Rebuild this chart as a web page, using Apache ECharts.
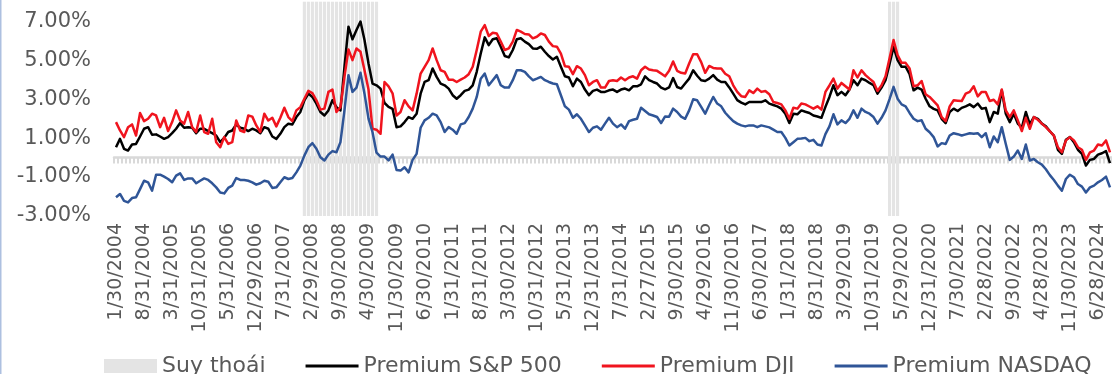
<!DOCTYPE html>
<html>
<head>
<meta charset="utf-8">
<script src="https://cdn.jsdelivr.net/npm/echarts@6/dist/echarts.min.js"></script>
<style>
  html, body { margin: 0; padding: 0; background: #ffffff; }
  #chart { width: 1112px; height: 374px; }
</style>
</head>
<body>
<div id="chart"></div>
<script>
// Monthly series, January 2004 to September 2024 (month-end values, in %)
const startYear = 2004;
const monthCount = 249;

// NBER recession months shaded on the chart
const recessions = [['2007-12', '2009-06'], ['2020-02', '2020-04']];

const spPremium = [
  0.53, 0.96, 0.45, 0.36, 0.67, 0.70, 1.08, 1.48, 1.56, 1.17,
  1.19, 1.08, 0.96, 1.05, 1.25, 1.48, 1.77, 1.53, 1.56, 1.53,
  1.25, 1.48, 1.48, 1.36, 1.25, 1.13, 0.79, 1.01, 1.31, 1.39,
  1.70, 1.53, 1.48, 1.36, 1.48, 1.39, 1.25, 1.56, 1.48, 1.08,
  0.96, 1.22, 1.56, 1.74, 1.70, 2.08, 2.34, 2.94, 3.28, 3.11,
  2.77, 2.34, 2.16, 2.42, 2.94, 2.59, 2.42, 4.66, 6.72, 6.07,
  6.55, 6.98, 6.03, 4.83, 3.80, 3.71, 3.54, 2.80, 2.60, 2.50,
  1.56, 1.60, 1.82, 2.08, 1.99, 2.25, 3.28, 3.88, 3.97, 4.57,
  4.14, 3.80, 3.71, 3.54, 3.20, 3.02, 3.20, 3.42, 3.49, 3.71,
  4.40, 5.34, 6.17, 5.77, 6.07, 6.12, 5.69, 5.21, 5.14, 5.52,
  6.07, 6.12, 5.95, 5.82, 5.60, 5.58, 5.69, 5.43, 5.21, 5.03,
  5.17, 4.66, 4.17, 4.11, 3.66, 4.05, 3.88, 3.49, 3.20, 3.42,
  3.49, 3.37, 3.37, 3.45, 3.49, 3.37, 3.49, 3.54, 3.45, 3.66,
  3.66, 3.76, 4.17, 3.97, 3.88, 3.80, 3.59, 3.50, 3.60, 4.08,
  3.62, 3.54, 3.80, 4.05, 4.48, 4.20, 3.97, 3.93, 4.05, 4.23,
  4.00, 3.88, 3.88, 3.60, 3.28, 2.95, 2.82, 2.73, 2.85, 2.85,
  2.85, 2.85, 2.94, 2.77, 2.70, 2.63, 2.51, 2.25, 1.77, 2.25,
  2.22, 2.42, 2.35, 2.29, 2.16, 2.11, 2.04, 2.60, 3.11, 3.71,
  3.20, 3.37, 3.20, 3.49, 3.97, 3.71, 4.05, 3.97, 3.83, 3.71,
  3.28, 3.59, 3.97, 4.80, 5.69, 5.00, 4.66, 4.66, 4.28, 3.45,
  3.59, 3.49, 3.02, 2.63, 2.50, 2.42, 1.99, 1.77, 2.34, 2.51,
  2.39, 2.55, 2.63, 2.73, 2.59, 2.77, 2.51, 2.55, 1.82, 2.34,
  2.25, 3.45, 2.25, 1.82, 2.25, 1.74, 1.53, 2.34, 1.70, 2.08,
  1.99, 1.74, 1.60, 1.35, 1.13, 0.40, 0.19, 0.91, 1.05, 0.79,
  0.40, 0.19, -0.41, -0.12, -0.07, 0.15, 0.22, 0.33, -0.29
];

const djiPremium = [
  1.82, 1.39, 1.05, 1.56, 1.70, 1.13, 2.29, 1.87, 1.99, 2.25,
  2.16, 1.56, 2.04, 1.36, 1.82, 2.42, 1.90, 1.74, 2.34, 1.56,
  1.31, 2.16, 1.31, 1.22, 1.99, 0.79, 0.53, 1.05, 0.70, 0.79,
  1.90, 1.39, 1.31, 2.16, 2.10, 1.65, 1.31, 2.25, 1.90, 2.04,
  1.60, 2.04, 2.56, 2.08, 1.87, 2.42, 2.59, 3.02, 3.42, 3.31,
  2.94, 2.46, 2.51, 3.37, 3.49, 2.34, 2.59, 4.14, 5.55, 5.00,
  5.60, 5.43, 4.48, 3.49, 1.48, 1.43, 1.22, 3.88, 3.65, 3.30,
  2.16, 2.34, 2.94, 2.63, 2.42, 3.28, 4.31, 4.66, 5.00, 5.60,
  5.00, 4.48, 4.40, 4.00, 4.00, 3.88, 4.00, 4.11, 4.28, 4.66,
  5.52, 6.46, 6.80, 6.24, 6.41, 6.37, 5.95, 5.52, 5.60, 5.95,
  6.55, 6.46, 6.34, 6.32, 6.12, 6.20, 6.37, 6.29, 5.95, 5.72,
  5.69, 5.34, 4.69, 4.66, 4.28, 4.69, 4.57, 4.23, 3.71, 3.88,
  3.97, 3.59, 3.59, 3.93, 3.97, 3.93, 4.11, 3.97, 4.11, 4.17,
  4.05, 4.48, 4.66, 4.52, 4.48, 4.45, 4.31, 4.17, 4.45, 4.93,
  4.45, 4.35, 4.31, 4.83, 5.30, 5.30, 4.90, 4.35, 4.70, 4.60,
  4.57, 4.57, 4.30, 4.17, 3.71, 3.37, 3.15, 3.11, 3.45, 3.31,
  3.54, 3.37, 3.42, 3.25, 2.85, 2.80, 2.73, 2.42, 1.99, 2.56,
  2.51, 2.77, 2.73, 2.62, 2.51, 2.63, 2.46, 3.37, 3.70, 4.05,
  3.54, 3.83, 3.66, 3.49, 4.48, 4.11, 4.48, 4.23, 4.05, 3.88,
  3.42, 3.71, 4.17, 5.10, 6.03, 5.26, 4.86, 4.86, 4.57, 3.66,
  3.71, 3.93, 3.25, 3.11, 2.90, 2.68, 2.08, 1.87, 2.63, 2.94,
  2.92, 2.90, 3.28, 3.37, 3.66, 3.14, 3.37, 3.37, 2.90, 2.97,
  2.73, 3.49, 2.42, 2.08, 2.42, 1.91, 1.36, 2.04, 1.48, 2.08,
  1.94, 1.74, 1.56, 1.35, 1.13, 0.53, 0.27, 0.88, 1.05, 0.88,
  0.53, 0.40, -0.12, 0.27, 0.36, 0.67, 0.62, 0.88, 0.27
];

const nasdaqPremium = [
  -2.04, -1.87, -2.22, -2.30, -2.08, -2.04, -1.62, -1.19, -1.27, -1.70,
  -0.88, -0.88, -0.98, -1.10, -1.27, -0.93, -0.81, -1.15, -1.07, -1.07,
  -1.32, -1.19, -1.07, -1.15, -1.32, -1.53, -1.79, -1.84, -1.56, -1.44,
  -1.05, -1.15, -1.15, -1.19, -1.27, -1.39, -1.32, -1.19, -1.24, -1.56,
  -1.53, -1.27, -1.01, -1.10, -1.05, -0.76, -0.41, 0.10, 0.53, 0.74,
  0.45, 0.02, -0.15, 0.15, 0.33, 0.27, 0.79, 2.42, 4.23, 3.37,
  3.59, 4.35, 3.28, 2.00, 1.30, 0.25, 0.05, 0.05, -0.15, 0.15,
  -0.64, -0.67, -0.50, -0.76, -0.12, 0.19, 1.53, 1.91, 2.04, 2.25,
  2.16, 1.82, 1.31, 1.56, 1.43, 1.22, 1.70, 1.77, 2.08, 2.51,
  3.11, 4.05, 4.31, 3.71, 3.97, 4.23, 3.71, 3.59, 3.59, 3.97,
  4.48, 4.48, 4.40, 4.17, 3.97, 4.05, 4.14, 3.97, 3.88, 3.80,
  3.76, 3.20, 2.63, 2.46, 2.04, 2.22, 1.99, 1.65, 1.31, 1.53,
  1.60, 1.43, 1.74, 2.04, 1.74, 1.56, 1.70, 1.48, 1.87, 1.94,
  1.99, 2.56, 2.39, 2.22, 2.16, 2.08, 1.77, 2.11, 2.10, 2.51,
  2.34, 2.10, 1.99, 2.42, 2.99, 2.94, 2.60, 2.25, 2.70, 3.11,
  2.77, 2.63, 2.30, 2.08, 1.87, 1.74, 1.65, 1.60, 1.65, 1.65,
  1.56, 1.65, 1.60, 1.55, 1.43, 1.31, 1.31, 1.01, 0.62, 0.79,
  0.96, 0.98, 1.01, 0.84, 0.91, 0.67, 0.62, 1.20, 1.60, 2.22,
  1.70, 1.91, 1.77, 1.99, 2.42, 2.04, 2.51, 2.34, 2.25, 2.08,
  1.74, 2.04, 2.42, 3.00, 3.63, 3.02, 2.73, 2.63, 2.29, 1.99,
  1.87, 1.91, 1.48, 1.30, 1.05, 0.57, 0.74, 0.70, 1.13, 1.25,
  1.20, 1.13, 1.19, 1.25, 1.22, 1.25, 1.05, 1.25, 0.53, 1.08,
  0.79, 1.56, 0.70, -0.12, 0.05, 0.36, -0.07, 0.67, -0.15, -0.07,
  -0.24, -0.36, -0.60, -0.90, -1.15, -1.44, -1.70, -1.10, -0.88, -1.01,
  -1.36, -1.49, -1.79, -1.53, -1.44, -1.27, -1.15, -0.98, -1.53
];

// Month-end trading dates (last weekday of each month) used as category labels
function lastWeekday(year, month) {
  const d = new Date(Date.UTC(year, month, 0));
  while (d.getUTCDay() === 0 || d.getUTCDay() === 6) d.setUTCDate(d.getUTCDate() - 1);
  return month + '/' + d.getUTCDate() + '/' + year;
}
const months = [];
const monthKeys = [];
for (let k = 0; k < monthCount; k++) {
  const y = startYear + Math.floor(k / 12);
  const m = (k % 12) + 1;
  months.push(lastWeekday(y, m));
  monthKeys.push(y + '-' + String(m).padStart(2, '0'));
}
const recessionBars = monthKeys.map(function (key) {
  return recessions.some(function (r) { return key >= r[0] && key <= r[1]; }) ? 1 : '-';
});

const FONT = 'DejaVu Sans';
const TEXT = '#595959';
// Thin horizontal stroke used as the legend key of each line series
const LINE_KEY = 'path://M0,0 L53,0 L53,3 L0,3 Z';

const chart = echarts.init(document.getElementById('chart'), null, { renderer: 'canvas' });
chart.setOption({
  animation: false,
  backgroundColor: '#ffffff',
  grid: { left: 114, top: 1.7, width: 998.5, height: 214.3, containLabel: false },
  xAxis: [
    {
      type: 'category',
      data: months,
      boundaryGap: true,
      position: 'bottom',
      axisLine: { show: false, onZero: false },
      axisTick: { show: false },
      axisLabel: {
        interval: 6, rotate: 90, margin: 7,
        color: TEXT, fontFamily: FONT, fontSize: 19
      },
      splitLine: { show: false }
    },
    {
      type: 'category',
      data: months,
      boundaryGap: true,
      position: 'bottom',
      axisLine: { show: true, onZero: true, onZeroAxisIndex: 0, lineStyle: { color: '#d9d9d9', width: 2.5 } },
      axisTick: { show: true, interval: 0, length: 6, lineStyle: { color: '#d9d9d9', width: 2 } },
      axisLabel: { show: false },
      splitLine: { show: false }
    }
  ],
  yAxis: [
    {
      type: 'value', min: -3, max: 8, interval: 2,
      axisLine: { show: false }, axisTick: { show: false }, splitLine: { show: false },
      axisLabel: {
        showMaxLabel: false, margin: 23, padding: [8, 0, 0, 0],
        formatter: function (v) { return v.toFixed(2) + '%'; },
        color: TEXT, fontFamily: FONT, fontSize: 21
      }
    },
    { type: 'value', min: 0, max: 1, show: false }
  ],
  legend: {
    left: 99, top: 350,
    itemWidth: 53, itemHeight: 14, itemGap: 40,
    symbolKeepAspect: true,
    textStyle: { color: TEXT, fontFamily: FONT, fontSize: 22 },
    data: [
      { name: 'Suy thoái', icon: 'rect' },
      { name: 'Premium S&P 500', icon: LINE_KEY },
      { name: 'Premium DJI', icon: LINE_KEY },
      { name: 'Premium NASDAQ', icon: LINE_KEY }
    ]
  },
  graphic: [
    { type: 'rect', left: 0, top: 0, shape: { width: 1.5, height: 374 }, style: { fill: '#adc0e0' }, silent: true }
  ],
  series: [
    {
      name: 'Suy thoái', type: 'bar', xAxisIndex: 0, yAxisIndex: 1,
      data: recessionBars, barWidth: '78%',
      itemStyle: { color: '#e4e4e4' }, z: 1, silent: true
    },
    {
      name: 'Premium S&P 500', type: 'line', xAxisIndex: 0, yAxisIndex: 0,
      data: spPremium, symbol: 'none',
      lineStyle: { color: '#000000', width: 2.5, join: 'round' }, itemStyle: { color: '#000000' }, z: 3
    },
    {
      name: 'Premium DJI', type: 'line', xAxisIndex: 0, yAxisIndex: 0,
      data: djiPremium, symbol: 'none',
      lineStyle: { color: '#f0141e', width: 2.5, join: 'round' }, itemStyle: { color: '#f0141e' }, z: 4
    },
    {
      name: 'Premium NASDAQ', type: 'line', xAxisIndex: 0, yAxisIndex: 0,
      data: nasdaqPremium, symbol: 'none',
      lineStyle: { color: '#2f5597', width: 2.5, join: 'round' }, itemStyle: { color: '#2f5597' }, z: 5
    }
  ]
});
</script>
</body>
</html>
